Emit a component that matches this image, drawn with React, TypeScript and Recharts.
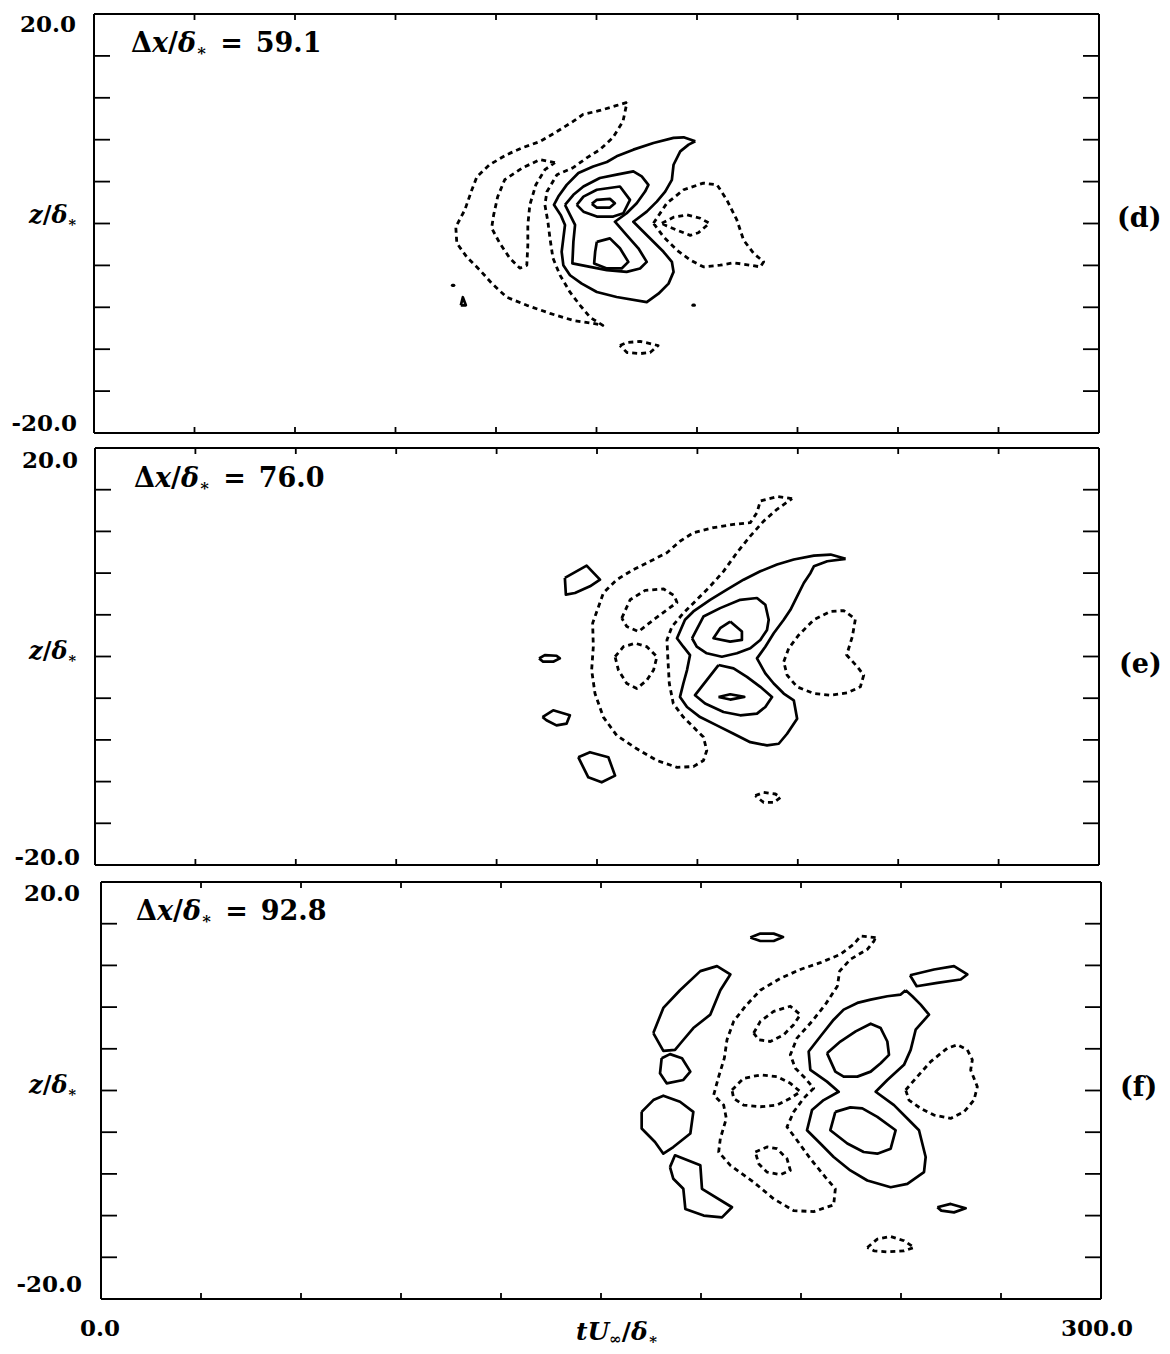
import React from "react";
import { LineChart, Line, XAxis, YAxis } from "recharts";

type Pt = [number, number];

const xTicks = [0, 30, 60, 90, 120, 150, 180, 210, 240, 270, 300];
const yTicks = [-20, -16, -12, -8, -4, 0, 4, 8, 12, 16, 20];

// ---- panel (d), dx/d* = 59.1 ----
const dSolidOuter: Pt[] = [[179.5,7.85],[176.0,8.23],[173.0,8.17],[167.0,7.69],[161.0,7.05],[156.0,6.41],[153.1,5.87],[149.0,5.45],[144.6,4.82],[141.1,3.69],[138.6,2.57],[137.3,1.78],[139.3,0.82],[140.6,-0.14],[140.1,-1.42],[139.6,-2.7],[140.1,-3.98],[142.1,-4.94],[145.6,-5.74],[150.1,-6.54],[156.0,-7.02],[165.0,-7.5],[168.5,-6.7],[171.5,-5.74],[173.0,-4.62],[172.5,-3.66],[170.0,-2.7],[167.0,-1.75],[164.0,-0.79],[161.0,0.17],[165.0,1.13],[168.0,2.09],[170.5,3.05],[172.5,4.17],[173.0,5.61],[175.0,6.89],[177.5,7.53]];
const dSolidMid: Pt[] = [[140.6,1.78],[143.1,2.74],[146.1,3.53],[151.0,4.34],[156.0,4.66],[161.0,4.97],[163.5,4.49],[165.5,3.69],[164.5,3.05],[162.0,1.94],[159.0,0.98],[155.5,0.17],[159.0,-1.1],[162.5,-2.37],[165.0,-3.66],[163.0,-4.29],[159.0,-4.62],[153.1,-4.45],[148.1,-4.14],[142.8,-3.81],[143.1,-1.75],[143.6,-0.14],[142.1,0.82]];
const dSolidTop: Pt[] = [[144.1,1.78],[146.1,2.57],[150.1,3.22],[157.0,3.53],[160.0,2.26],[158.0,0.98],[155.0,0.66],[150.1,0.66],[146.1,1.13]];
const dSolidCore: Pt[] = [[148.6,1.87],[150.1,2.26],[154.0,2.35],[155.5,1.94],[154.0,1.52],[150.1,1.52]];
const dSolidLow: Pt[] = [[150.1,-1.75],[154.0,-1.42],[157.0,-2.37],[159.5,-3.66],[157.5,-4.29],[153.1,-4.29],[149.3,-3.81],[149.6,-2.7]];
const dSolidSpeck: Pt[] = [[109.5,-7.81],[110.1,-7.04],[111.0,-7.81]];
const dDot1: Pt[] = [[107.0,-5.9],[107.4,-5.9]];
const dDot2: Pt[] = [[178.8,-7.8],[179.2,-7.8]];
const dDashBig: Pt[] = [[159.1,11.56],[156.1,11.27],[151.0,10.79],[146.0,10.41],[143.0,9.74],[138.2,8.78],[133.1,7.82],[128.0,7.25],[123.2,6.57],[118.1,5.62],[114.3,4.46],[112.8,3.22],[110.7,1.3],[108.0,-0.33],[108.3,-1.87],[111.3,-3.21],[115.2,-4.45],[118.7,-5.7],[123.2,-7.04],[129.2,-7.81],[136.1,-8.58],[143.0,-9.25],[149.0,-9.54],[151.9,-9.73],[148.1,-8.96],[145.1,-7.81],[142.1,-6.56],[139.1,-4.93],[137.0,-3.3],[136.1,-1.39],[135.5,0.15],[134.6,1.78],[135.2,3.03],[138.2,4.66],[143.0,5.33],[147.2,6.29],[151.0,7.05],[154.9,8.2],[157.9,9.74]];
const dDashLeft: Pt[] = [[137.6,5.81],[133.1,6.09],[128.0,5.33],[122.6,4.18],[120.5,2.55],[119.3,0.82],[118.7,-0.43],[121.1,-1.87],[124.1,-3.3],[127.1,-4.26],[129.2,-3.98],[129.5,-2.06],[129.5,-0.14],[130.1,1.78],[131.9,3.7],[134.6,5.14]];
const dDashRight: Pt[] = [[167.0,0.02],[171.0,1.94],[176.0,3.22],[181.9,3.86],[186.0,3.69],[188.9,2.26],[191.9,0.34],[193.9,-1.58],[196.9,-2.85],[199.9,-3.66],[198.9,-4.14],[195.9,-3.98],[190.9,-3.75],[186.9,-3.98],[181.9,-4.14],[178.0,-3.5],[174.0,-2.54],[170.0,-1.26]];
const dDashRightSmall: Pt[] = [[169.5,0.02],[173.0,0.6],[177.0,0.82],[181.0,0.5],[183.7,0.02],[180.4,-0.88],[178.0,-1.13],[174.5,-0.69],[171.0,-0.24]];
const dDashLow: Pt[] = [[157.0,-11.65],[159.1,-11.36],[163.0,-11.26],[166.0,-11.46],[168.4,-11.65],[166.0,-12.32],[163.0,-12.42],[159.1,-12.32]];

// ---- panel (e), dx/d* = 76.0 ----
const eSolidOuter: Pt[] = [[224.3,9.37],[219.8,9.78],[214.8,9.68],[208.8,9.3],[203.8,8.82],[198.8,8.17],[193.8,7.37],[188.8,6.41],[183.8,5.44],[178.8,4.32],[176.3,3.52],[173.9,1.75],[175.8,0.94],[177.8,0.14],[176.9,-1.3],[175.8,-2.59],[174.8,-3.88],[176.9,-4.84],[180.8,-5.81],[185.8,-6.61],[190.8,-7.41],[195.8,-8.22],[200.8,-8.53],[204.3,-8.37],[206.8,-7.41],[209.8,-5.96],[208.8,-4.2],[205.8,-3.55],[202.8,-2.59],[200.3,-1.62],[197.8,-0.18],[200.3,0.94],[202.8,2.23],[205.8,3.52],[207.8,4.48],[209.8,5.76],[211.8,7.05],[213.8,8.02],[214.8,8.65],[218.8,9.14]];
const eSolidTop: Pt[] = [[178.4,1.75],[181.8,3.83],[186.8,4.64],[192.8,5.44],[197.8,5.61],[200.3,4.96],[201.3,3.52],[200.8,2.55],[198.8,1.59],[195.8,0.79],[191.8,0.31],[187.3,-0.02],[182.8,0.31],[179.8,0.94]];
const eSolidLow: Pt[] = [[186.3,-0.82],[190.8,-1.14],[194.8,-1.95],[198.8,-2.91],[202.3,-3.88],[200.3,-4.84],[197.8,-5.48],[192.8,-5.64],[187.8,-5.32],[182.3,-4.51],[179.3,-3.71],[182.8,-2.27]];
const eSolidCoreTop: Pt[] = [[189.8,3.35],[193.3,2.39],[193.3,1.59],[189.8,1.42],[184.8,1.75],[186.8,2.72]];
const eSolidCoreLow: Pt[] = [[186.3,-3.88],[189.8,-3.62],[194.0,-3.88],[189.8,-4.13]];
const eIslandA: Pt[] = [[140.4,7.54],[146.9,8.72],[150.9,7.37],[147.9,6.73],[143.4,6.09],[140.7,5.93]];
const eIslandB: Pt[] = [[132.7,-0.18],[134.4,0.14],[137.9,0.07],[138.9,-0.18],[136.9,-0.5],[133.9,-0.5]];
const eIslandC: Pt[] = [[133.7,-5.81],[136.9,-5.16],[141.9,-5.64],[140.9,-6.44],[137.9,-6.61],[134.9,-6.12]];
const eIslandD: Pt[] = [[144.4,-9.66],[147.9,-9.18],[153.4,-9.66],[155.4,-11.43],[151.4,-12.07],[147.4,-11.59]];
const eDashBig: Pt[] = [[208.3,15.15],[203.8,15.34],[198.8,14.92],[197.8,13.8],[195.8,12.84],[190.8,12.67],[184.8,12.36],[178.8,11.87],[174.8,11.06],[170.9,9.95],[165.9,9.14],[160.9,8.34],[155.9,7.37],[151.9,6.09],[148.7,3.2],[148.9,0.94],[148.4,-1.3],[149.4,-3.55],[151.9,-5.81],[155.9,-7.57],[161.9,-8.85],[167.9,-9.98],[173.9,-10.63],[178.8,-10.56],[181.8,-9.98],[182.8,-9.02],[181.8,-7.73],[178.8,-6.77],[175.8,-5.81],[172.8,-4.52],[171.6,-2.59],[171.2,-0.34],[170.9,1.59],[172.4,2.87],[175.8,4.16],[179.8,5.44],[183.8,6.73],[187.8,8.17],[191.8,9.95],[195.8,11.55],[199.8,12.99],[203.8,14.12]];
const eDashTop: Pt[] = [[157.4,3.68],[159.9,5.44],[164.4,6.34],[169.9,6.48],[173.1,5.83],[173.9,5.18],[170.9,4.48],[166.9,3.52],[162.4,2.39],[158.9,2.87]];
const eDashMid: Pt[] = [[155.4,-0.02],[157.9,0.94],[161.4,1.27],[164.9,0.94],[167.9,-0.02],[166.9,-1.3],[164.9,-2.27],[161.9,-3.07],[158.9,-2.59],[156.4,-1.3]];
const eDashRight: Pt[] = [[205.8,-0.5],[207.3,0.79],[210.3,2.07],[214.8,3.52],[219.8,4.32],[223.7,4.41],[227.2,3.58],[226.3,1.91],[224.6,0.14],[227.8,-0.99],[229.7,-1.79],[228.7,-2.91],[224.8,-3.49],[219.8,-3.71],[214.8,-3.55],[209.8,-2.91],[206.8,-1.79]];
const eDashLow: Pt[] = [[197.3,-13.35],[199.8,-13.04],[203.3,-13.19],[204.8,-13.52],[202.8,-14.0],[199.8,-14.0]];

// ---- panel (f), dx/d* = 92.8 ----
const fSolidOuter: Pt[] = [[241.4,9.62],[239.9,9.2],[235.9,9.04],[230.9,8.72],[226.9,8.4],[222.8,7.76],[219.8,6.79],[215.8,5.18],[212.3,3.74],[212.8,1.97],[217.8,0.85],[221.3,-0.12],[216.8,-0.92],[213.3,-1.88],[211.8,-3.81],[215.8,-5.09],[219.8,-6.38],[224.8,-7.67],[229.9,-8.63],[236.9,-9.28],[241.9,-8.95],[246.9,-7.83],[247.4,-6.38],[245.4,-3.81],[241.9,-2.68],[237.9,-1.4],[232.4,-0.12],[235.9,1.01],[240.9,2.46],[242.9,3.9],[244.4,5.83],[248.4,7.28],[245.9,8.24],[243.4,9.04]];
const fSolidTop: Pt[] = [[217.8,3.58],[221.8,4.7],[226.4,5.67],[230.9,6.41],[233.9,5.99],[235.9,4.7],[236.4,3.42],[233.9,2.62],[230.9,1.81],[226.9,1.33],[222.8,1.33],[220.3,1.81]];
const fSolidLow: Pt[] = [[220.3,-2.05],[224.8,-1.62],[228.4,-1.72],[232.9,-2.53],[238.4,-3.81],[236.9,-5.58],[232.9,-6.06],[228.8,-5.9],[223.9,-5.09],[218.8,-3.81]];
const fIslandTop: Pt[] = [[194.8,14.67],[197.8,15.05],[201.8,15.05],[204.6,14.73],[201.8,14.34],[197.8,14.34]];
const fIslandRight: Pt[] = [[242.7,11.06],[249.9,11.61],[255.9,11.93],[259.9,11.13],[257.9,10.65],[250.9,10.33],[244.7,10.0]];
const fIslandLowRight: Pt[] = [[250.9,-11.2],[254.9,-10.88],[259.4,-11.3],[255.9,-11.69],[252.1,-11.52]];
const fIslandLong: Pt[] = [[165.7,5.51],[168.7,7.92],[173.7,9.62],[179.8,11.45],[184.8,11.93],[188.8,11.13],[185.8,9.62],[182.8,7.28],[177.7,5.99],[174.3,4.7],[172.2,3.9],[168.7,3.8]];
const fIslandSmall: Pt[] = [[168.2,3.1],[170.7,3.49],[174.3,3.1],[176.8,1.81],[174.7,1.01],[169.7,0.69],[167.7,1.65]];
const fIslandRound: Pt[] = [[162.2,-2.05],[165.7,-0.92],[168.7,-0.5],[173.7,-1.08],[177.7,-2.05],[176.8,-4.13],[171.7,-5.42],[168.7,-6.06],[166.2,-4.94],[162.2,-3.65]];
const fIslandZig: Pt[] = [[170.7,-7.35],[172.2,-6.22],[179.8,-7.18],[180.3,-9.43],[189.3,-11.2],[186.3,-12.17],[180.8,-12.0],[175.3,-11.36],[174.7,-9.43],[171.7,-8.47]];
const fDashBig: Pt[] = [[232.4,14.67],[227.9,14.82],[225.8,14.02],[221.8,13.06],[215.8,12.26],[209.8,11.61],[203.8,10.75],[197.8,9.62],[193.3,8.08],[189.8,6.63],[187.8,4.87],[187.0,3.1],[185.3,1.33],[183.8,-0.44],[186.8,-1.4],[187.6,-2.68],[185.8,-4.61],[185.3,-5.9],[188.8,-7.18],[195.8,-8.79],[201.8,-10.39],[207.8,-11.52],[213.8,-11.62],[219.8,-10.97],[220.3,-9.43],[217.3,-8.31],[212.8,-6.54],[208.8,-4.77],[205.8,-3.49],[207.8,-2.05],[210.8,-0.75],[213.8,0.21],[211.3,1.17],[208.3,2.14],[206.8,3.42],[208.8,5.03],[213.3,6.63],[217.3,8.24],[220.9,10.0],[221.6,11.45],[224.8,12.58],[229.9,13.54],[231.9,14.34]];
const fDashTop: Pt[] = [[195.8,5.51],[197.8,6.63],[201.8,7.59],[206.8,8.08],[209.8,7.28],[207.8,6.31],[204.8,5.35],[200.8,4.7],[197.3,4.87]];
const fDashMid: Pt[] = [[189.3,0.05],[192.8,1.17],[197.8,1.49],[202.8,1.33],[206.8,0.69],[209.8,-0.12],[206.8,-0.75],[202.8,-1.4],[197.8,-1.56],[192.8,-1.4],[189.8,-0.75]];
const fDashLowLeft: Pt[] = [[196.3,-5.9],[199.8,-5.42],[202.8,-5.58],[205.8,-6.54],[206.8,-7.67],[203.8,-8.08],[199.8,-7.83],[197.3,-7.02]];
const fDashRight: Pt[] = [[241.4,0.05],[244.9,1.33],[248.9,2.77],[253.9,4.06],[256.9,4.38],[259.9,3.9],[261.4,2.94],[260.9,1.97],[262.9,0.36],[261.9,-0.92],[258.9,-2.05],[254.9,-2.68],[249.9,-2.36],[245.9,-1.72],[242.4,-0.92]];
const fDashLow: Pt[] = [[229.9,-15.06],[232.9,-14.25],[236.9,-14.0],[240.9,-14.41],[243.9,-15.06],[240.9,-15.38],[235.9,-15.48],[231.9,-15.38]];

type Contour = { pts: Pt[]; dashed?: boolean; open?: boolean };

const panelD: Contour[] = [
  { pts: dSolidOuter }, { pts: dSolidMid }, { pts: dSolidTop }, { pts: dSolidCore },
  { pts: dSolidLow }, { pts: dSolidSpeck }, { pts: dDot1, open: true }, { pts: dDot2, open: true },
  { pts: dDashBig, dashed: true }, { pts: dDashLeft, dashed: true }, { pts: dDashRight, dashed: true },
  { pts: dDashRightSmall, dashed: true }, { pts: dDashLow, dashed: true },
];
const panelE: Contour[] = [
  { pts: eSolidOuter }, { pts: eSolidTop }, { pts: eSolidLow }, { pts: eSolidCoreTop },
  { pts: eSolidCoreLow }, { pts: eIslandA }, { pts: eIslandB }, { pts: eIslandC }, { pts: eIslandD },
  { pts: eDashBig, dashed: true }, { pts: eDashTop, dashed: true }, { pts: eDashMid, dashed: true },
  { pts: eDashRight, dashed: true }, { pts: eDashLow, dashed: true },
];
const panelF: Contour[] = [
  { pts: fSolidOuter }, { pts: fSolidTop }, { pts: fSolidLow }, { pts: fIslandTop },
  { pts: fIslandRight }, { pts: fIslandLowRight }, { pts: fIslandLong }, { pts: fIslandSmall },
  { pts: fIslandRound }, { pts: fIslandZig },
  { pts: fDashBig, dashed: true }, { pts: fDashTop, dashed: true }, { pts: fDashMid, dashed: true },
  { pts: fDashLowLeft, dashed: true }, { pts: fDashRight, dashed: true }, { pts: fDashLow, dashed: true },
];

const toRows = (c: Contour) => {
  const pts = c.open ? c.pts : [...c.pts, c.pts[0]];
  return pts.map(([x, y]) => ({ x, y }));
};

const axisLine = { stroke: "#000", strokeWidth: 2 };
const tickLine = { stroke: "#000", strokeWidth: 1.8 };
// tick marks only, no numbers on the axes themselves
const NoLabel = () => <g />;

type PanelProps = {
  top: number;
  height: number;
  margin: { top: number; right: number; bottom: number; left: number };
  contours: Contour[];
};

// axes have a 1px band (an axis of size 0 is not drawn), so margins are 1px smaller
const Panel = ({ top, height, margin, contours }: PanelProps) => (
  <div style={{ position: "absolute", left: 0, top }}>
    <LineChart
      width={1170}
      height={height}
      margin={{ top: margin.top - 1, right: margin.right - 1, bottom: margin.bottom - 1, left: margin.left - 1 }}
    >
      <XAxis xAxisId="b" type="number" dataKey="x" domain={[0, 300]} allowDataOverflow ticks={xTicks}
        orientation="bottom" mirror height={1} tick={NoLabel} tickSize={6} axisLine={axisLine} tickLine={tickLine} />
      <XAxis xAxisId="t" type="number" dataKey="x" domain={[0, 300]} allowDataOverflow ticks={xTicks}
        orientation="top" mirror height={1} tick={NoLabel} tickSize={6} axisLine={axisLine} tickLine={tickLine} />
      <YAxis yAxisId="l" type="number" domain={[-20, 20]} allowDataOverflow ticks={yTicks}
        orientation="left" mirror width={1} tick={NoLabel} tickSize={16} axisLine={axisLine} tickLine={tickLine} />
      <YAxis yAxisId="r" type="number" domain={[-20, 20]} allowDataOverflow ticks={yTicks}
        orientation="right" mirror width={1} tick={NoLabel} tickSize={16} axisLine={axisLine} tickLine={tickLine} />
      {contours.map((c, i) => (
        <Line
          key={i}
          xAxisId="b"
          yAxisId="l"
          data={toRows(c)}
          dataKey="y"
          type="linear"
          stroke="#000"
          strokeWidth={c.open ? 3.2 : c.dashed ? 2.8 : 2.7}
          strokeDasharray={c.dashed ? "5 4" : undefined}
          strokeLinejoin="round"
          strokeLinecap={c.open ? "round" : "butt"}
          dot={false}
          activeDot={false}
          isAnimationActive={false}
        />
      ))}
    </LineChart>
  </div>
);

const T = ({ x, y, size = 23, align = "left", children }: any) => (
  <div
    style={{
      position: "absolute",
      top: y,
      left: align === "left" ? x : undefined,
      right: align === "right" ? 1170 - x : undefined,
      ...(align === "center" ? { left: x, transform: "translateX(-50%)" } : {}),
      fontSize: size,
      lineHeight: 1,
      whiteSpace: "nowrap",
    }}
  >
    {children}
  </div>
);

const Star = () => <span style={{ fontSize: "0.6em", position: "relative", top: "0.25em" }}>∗</span>;

const DeltaLabel = ({ x, y, value }: { x: number; y: number; value: string }) => (
  <T x={x} y={y} size={27}>
    Δ<i>x</i>/<i>δ</i>
    <Star />
    <span style={{ margin: "0 13px" }}>=</span>
    {value}
  </T>
);

const ZLabel = ({ y }: { y: number }) => (
  <T x={29} y={y} size={24}>
    <i>z</i>/<i>δ</i>
    <Star />
  </T>
);

export default function App() {
  return (
    <div
      style={{
        position: "absolute",
        left: 0,
        top: 0,
        width: 1170,
        height: 1354,
        background: "#fff",
        color: "#000",
        fontFamily: '"DejaVu Serif", serif',
        fontWeight: "bold",
      }}
    >
      <Panel top={0} height={440} margin={{ top: 15, right: 72, bottom: 8, left: 95 }} contours={panelD} />
      <Panel top={440} height={430} margin={{ top: 9, right: 72, bottom: 6, left: 96 }} contours={panelE} />
      <Panel top={870} height={440} margin={{ top: 13, right: 70, bottom: 12, left: 102 }} contours={panelF} />

      <T x={76} y={12} align="right">20.0</T>
      <T x={77} y={411} align="right">-20.0</T>
      <T x={78} y={448} align="right">20.0</T>
      <T x={80} y={845} align="right">-20.0</T>
      <T x={80} y={881} align="right">20.0</T>
      <T x={82} y={1272} align="right">-20.0</T>

      <DeltaLabel x={131} y={29} value="59.1" />
      <DeltaLabel x={134} y={464} value="76.0" />
      <DeltaLabel x={136} y={897} value="92.8" />

      <ZLabel y={203} />
      <ZLabel y={639} />
      <ZLabel y={1073} />

      <T x={1117} y={204} size={27}>(d)</T>
      <T x={1119} y={650} size={27}>(e)</T>
      <T x={1120} y={1073} size={27}>(f)</T>

      <T x={100} y={1316} align="center">0.0</T>
      <T x={1097} y={1316} align="center">300.0</T>
      <T x={617} y={1319} align="center" size={25}>
        <i>tU</i>
        <span style={{ fontSize: "0.6em", position: "relative", top: "0.25em" }}>∞</span>/<i>δ</i>
        <Star />
      </T>
    </div>
  );
}
